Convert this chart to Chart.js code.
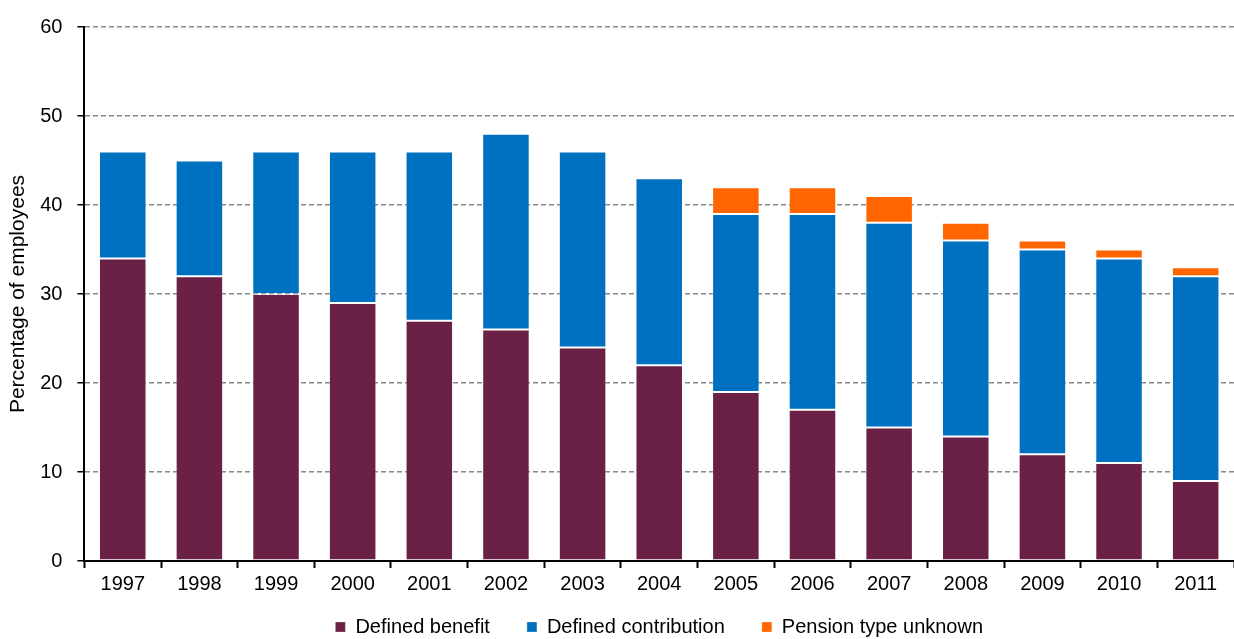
<!DOCTYPE html>
<html lang="en">
  <head>
    <meta charset="UTF-8" />
    <title>Workplace pension membership by type</title>
    <script src="https://cdn.jsdelivr.net/npm/chart.js"></script>
    <style>
      html,
      body {
        margin: 0;
        padding: 0;
        background: #ffffff;
      }

      .chart {
        position: relative;
        width: 1234px;
        height: 639px;
      }
    </style>
  </head>
  <body>
    <div class="chart">
      <canvas id="pensionChart"></canvas>
    </div>
    <script>
      const years = ["1997", "1998", "1999", "2000", "2001", "2002", "2003", "2004",
        "2005", "2006", "2007", "2008", "2009", "2010", "2011"];
      const definedBenefit = [34, 32, 30, 29, 27, 26, 24, 22, 19, 17, 15, 14, 12, 11, 9];
      const definedContribution = [12, 13, 16, 17, 19, 22, 22, 21, 20, 22, 23, 22, 23, 23, 23];
      const typeUnknown = [0, 0, 0, 0, 0, 0, 0, 0, 3, 3, 3, 2, 1, 1, 1];
      const yTicks = [0, 10, 20, 30, 40, 50, 60];

      const font = { family: "'Liberation Sans', Arial, sans-serif", size: 20 };

      function series(label, data, color) {
        return {
          label: label,
          data: data,
          backgroundColor: color,
          borderColor: "rgba(255, 255, 255, 0.25)",
          borderWidth: 1,
          borderSkipped: false,
          categoryPercentage: 1,
          barPercentage: 0.62,
        };
      }

      // legend items sit further apart than the vertical padding allows, so pad the text
      function legendLabels(chart) {
        const items = Chart.defaults.plugins.legend.labels.generateLabels(chart);
        return items.map((item, i) => ({
          ...item,
          text: i < items.length - 1 ? item.text + "\u2002\u2002" : item.text,
        }));
      }

      new Chart(document.getElementById("pensionChart"), {
        type: "bar",
        data: {
          labels: years,
          datasets: [
            series("Defined benefit", definedBenefit, "#6a2145"),
            series("Defined contribution", definedContribution, "#0070c0"),
            series("Pension type unknown", typeUnknown, "#ff6600"),
          ],
        },
        options: {
          responsive: true,
          maintainAspectRatio: false,
          animation: false,
          layout: { padding: { top: 16, right: 0, left: 4, bottom: -8 } },
          scales: {
            x: {
              stacked: true,
              grid: {
                drawOnChartArea: false,
                drawTicks: true,
                tickLength: 7,
                tickColor: "#000000",
                tickWidth: 2,
              },
              border: { display: true, color: "#000000", width: 2 },
              ticks: { color: "#000000", font: font, padding: 4 },
            },
            y: {
              stacked: true,
              min: 0,
              max: 60,
              afterBuildTicks: (axis) => {
                axis.ticks = yTicks.map((v) => ({ value: v }));
              },
              grid: {
                color: "#888888",
                lineWidth: 1.5,
                tickLength: 7,
                tickColor: "#000000",
              },
              border: { display: true, color: "#000000", width: 2, dash: [5, 3] },
              ticks: { color: "#000000", font: font, padding: 15 },
              title: {
                display: true,
                text: "Percentage of employees",
                color: "#000000",
                font: { ...font, size: 21 },
                padding: { top: 2, bottom: -6 },
              },
            },
          },
          plugins: {
            legend: {
              position: "bottom",
              fullSize: false,
              labels: {
                color: "#000000",
                font: font,
                boxWidth: 10,
                boxHeight: 10,
                padding: 17,
                generateLabels: legendLabels,
              },
            },
            tooltip: { enabled: false },
          },
        },
      });
    </script>
  </body>
</html>
